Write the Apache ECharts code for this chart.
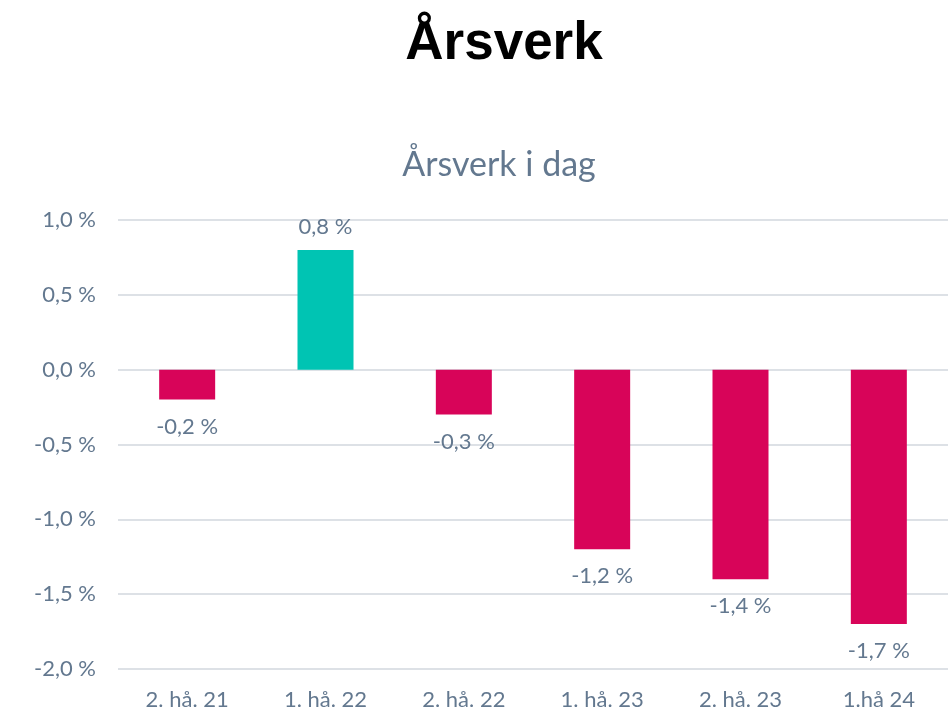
<!DOCTYPE html>
<html>
<head>
<meta charset="utf-8">
<script src="https://cdn.jsdelivr.net/npm/echarts@6/dist/echarts.min.js"></script>
<style>
  html, body { margin: 0; padding: 0; background: #fff; }
  #chart { width: 950px; height: 725px; }
</style>
</head>
<body>
<div id="chart"></div>
<script>
  var categories = ['2. hå. 21', '1. hå. 22', '2. hå. 22', '1. hå. 23', '2. hå. 23', '1.hå 24'];
  var values = [-0.2, 0.8, -0.3, -1.2, -1.4, -1.7];

  var textColor = '#63788f';
  var fmt = function (v) { return v.toFixed(1).replace('.', ',') + ' %'; };

  var chart = echarts.init(document.getElementById('chart'));
  var option = {
    title: [
      {
        text: 'Årsverk',
        left: 499,
        textAlign: 'center',
        top: 13,
        textStyle: { fontFamily: 'Liberation Sans', fontWeight: 'bold', fontSize: 53, color: '#000' }
      },
      {
        text: 'Årsverk i dag',
        left: 494,
        textAlign: 'center',
        top: 143,
        textStyle: { fontFamily: 'Lato', fontWeight: 'normal', fontSize: 34, color: textColor }
      }
    ],
    grid: { left: 118, right: 2, top: 220, bottom: 56 },
    xAxis: {
      type: 'category',
      data: categories,
      axisLine: { show: false },
      axisTick: { show: false },
      axisLabel: { color: textColor, fontFamily: 'Lato', fontSize: 22, margin: 20 }
    },
    yAxis: {
      type: 'value',
      min: -2,
      max: 1,
      interval: 0.5,
      axisLabel: {
        color: textColor, fontFamily: 'Lato', fontSize: 22, margin: 22,
        formatter: fmt
      },
      splitLine: { lineStyle: { color: '#dde1e6', width: 2 } }
    },
    series: [{
      type: 'bar',
      barWidth: 56,
      data: values.map(function (v) {
        return {
          value: v,
          itemStyle: { color: v >= 0 ? '#00c4b3' : '#d80459' },
          label: { position: v >= 0 ? 'top' : 'bottom', distance: v >= 0 ? 12 : 16 }
        };
      }),
      label: {
        show: true,
        color: textColor,
        fontFamily: 'Lato',
        fontSize: 22,
        formatter: function (p) { return fmt(p.value); }
      }
    }]
  };
  chart.setOption(option);
</script>
</body>
</html>
